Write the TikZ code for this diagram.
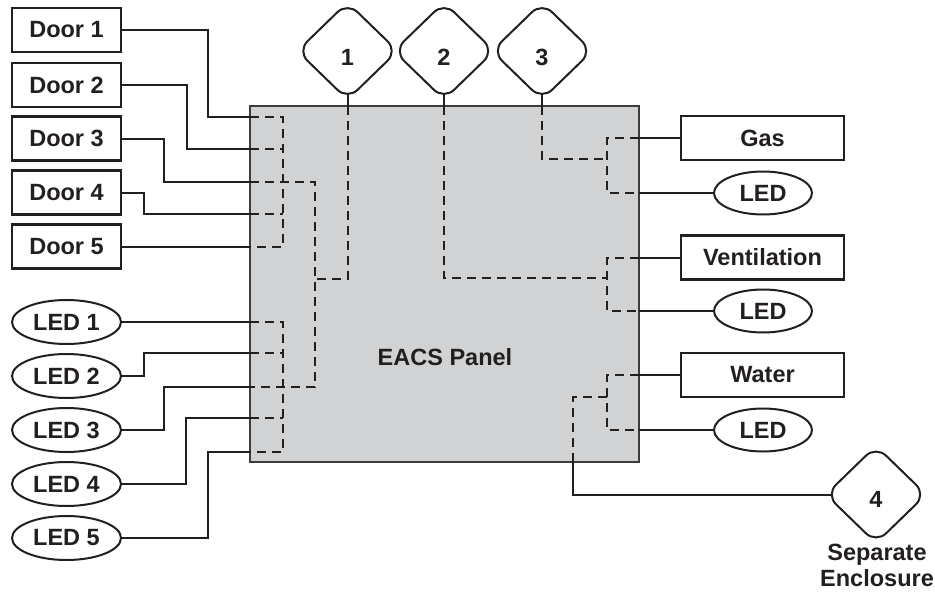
\documentclass[tikz,border=0pt]{standalone}
\usepackage{fontspec}
\setmainfont{Liberation Sans}
\usetikzlibrary{shapes.geometric,backgrounds}
\definecolor{ink}{HTML}{231F20}
\definecolor{panelgray}{HTML}{D1D2D4}
\definecolor{panelline}{HTML}{3C3C3C}
\begin{document}
\begin{tikzpicture}[x=1pt,y=-1pt,
  every node/.style={font=\fontsize{23.5}{26}\selectfont\bfseries, text=ink},
  wire/.style={ink, line width=2pt},
  dwire/.style={ink, line width=2pt, dash pattern=on 9pt off 6pt},
  doorbox/.style={draw=ink, line width=2.4pt, minimum width=109pt, minimum height=44pt, inner sep=0pt},
  sensbox/.style={draw=ink, line width=2.4pt, minimum width=163pt, minimum height=44pt, inner sep=0pt},
  ledell/.style={draw=ink, ellipse, line width=2pt, minimum width=109pt, minimum height=44pt, inner sep=0pt},
  ledsmall/.style={draw=ink, ellipse, line width=2pt, minimum width=98pt, minimum height=43pt, inner sep=0pt},
  tagdia/.style={draw=ink, fill=white, diamond, rounded corners=14pt, line width=2pt, minimum width=101pt, minimum height=98pt, inner sep=0pt}
]
\useasboundingbox (0,0) rectangle (935,592);

% left doors
\node[doorbox] (door1) at (66.5,30) {Door 1};
\node[doorbox] (door2) at (66.5,85) {Door 2};
\node[doorbox] (door3) at (66.5,138.5) {Door 3};
\node[doorbox] (door4) at (66.5,192.5) {Door 4};
\node[doorbox] (door5) at (66.5,246.5) {Door 5};
% left LEDs
\node[ledell] (led1) at (66.5,322) {LED 1};
\node[ledell] (led2) at (66.5,376) {LED 2};
\node[ledell] (led3) at (66.5,430) {LED 3};
\node[ledell] (led4) at (66.5,484) {LED 4};
\node[ledell] (led5) at (66.5,538) {LED 5};
% right sensors
\node[sensbox] (gas) at (762.5,138) {Gas};
\node[ledsmall] (ledg) at (763,193) {LED};
\node[sensbox] (vent) at (762.5,257.5) {Ventilation};
\node[ledsmall] (ledv) at (763,311) {LED};
\node[sensbox] (water) at (762.5,375) {Water};
\node[ledsmall] (ledw) at (763,430) {LED};
% diamonds
\node[tagdia] (d1) at (347.5,51) {};
\node[tagdia] (d2) at (444,51) {};
\node[tagdia] (d3) at (542,51) {};
\node[tagdia] (d4) at (876,494.5) {};
\node (n1) at (347.5,57) {1};
\node (n2) at (444,57) {2};
\node (n3) at (542,57) {3};
\node (n4) at (876,499) {4};
\node[align=center] (sep) at (877,565) {Separate\\Enclosure};

\begin{scope}[on background layer]
\node[draw=panelline, fill=panelgray, line width=2.5pt, minimum width=389pt, minimum height=356pt, inner sep=0pt] (panel) at (444.5,284) {};
\node (lbl) at (445,357) {EACS Panel};
% ports
\coordinate (p1) at (250,117);
\coordinate (p2) at (250,149);
\coordinate (p3) at (250,182);
\coordinate (p4) at (250,214);
\coordinate (p5) at (250,246.5);
\coordinate (q1) at (250,322);
\coordinate (q2) at (250,353);
\coordinate (q3) at (250,387);
\coordinate (q4) at (250,418);
\coordinate (q5) at (250,452);
\coordinate (g1) at (639,138);
\coordinate (g2) at (639,193);
\coordinate (v1) at (639,257.5);
\coordinate (v2) at (639,311);
\coordinate (w1) at (639,375);
\coordinate (w2) at (639,430);
\coordinate (t1) at (347.5,106);
\coordinate (t2) at (444,106);
\coordinate (t3) at (542,106);
\coordinate (b4) at (573,462);
% door wires
\draw[wire] (door1.east) -- ++(86,0) |- (p1);
\draw[wire] (door2.east) -- ++(65,0) |- (p2);
\draw[wire] (door3.east) -- ++(42,0) |- (p3);
\draw[wire] (door4.east) -- ++(22,0) |- (p4);
\draw[wire] (door5.east) -- (p5);
% LED wires
\draw[wire] (led1.east) -- (q1);
\draw[wire] (led2.east) -- ++(22,0) |- (q2);
\draw[wire] (led3.east) -- ++(42,0) |- (q3);
\draw[wire] (led4.east) -- ++(64,0) |- (q4);
\draw[wire] (led5.east) -- ++(86,0) |- (q5);
% right wires
\draw[wire] (g1) -- (gas.west);
\draw[wire] (g2) -- (ledg.west);
\draw[wire] (v1) -- (vent.west);
\draw[wire] (v2) -- (ledv.west);
\draw[wire] (w1) -- (water.west);
\draw[wire] (w2) -- (ledw.west);
% diamond wires
\draw[wire] (d1.center) -- (t1);
\draw[wire] (d2.center) -- (t2);
\draw[wire] (d3.center) -- (t3);
\draw[wire] (b4) |- (d4.center);
% internal dashed
\draw[dwire] (p1) -| (283,246.5) -- (p5);
\draw[dwire] (p2) -- ++(33,0);
\draw[dwire] (p4) -- ++(33,0);
\draw[dwire] (q1) -| (283,452) -- (q5);
\draw[dwire] (q2) -- ++(33,0);
\draw[dwire] (q4) -- ++(33,0);
\draw[dwire] (p3) -- (315,182) -- (315,387) -- (q3);
\draw[dwire] (t1) -- (347.5,279) -- (315,279);
\draw[dwire] (t2) |- (607,278);
\draw[dwire] (t3) |- (607,159);
\draw[dwire] (g1) -| (607,193) -- (g2);
\draw[dwire] (v1) -| (607,311) -- (v2);
\draw[dwire] (w1) -| (607,430) -- (w2);
\draw[dwire] (607,397) -| (b4);
\end{scope}
\end{tikzpicture}
\end{document}
